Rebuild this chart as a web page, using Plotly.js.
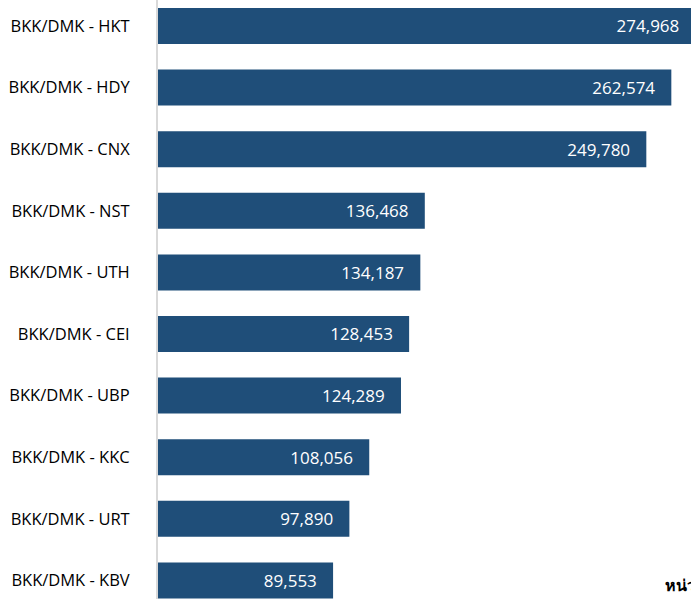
<!DOCTYPE html>
<html>
<head>
<meta charset="utf-8">
<script src="https://cdn.plot.ly/plotly-3.0.1.min.js"></script>
<style>
html,body{margin:0;padding:0;overflow:hidden;background:#fff;}
#chart{width:691px;height:599px;}
</style>
</head>
<body>
<div id="chart"></div>
<script>
const routes = ["BKK/DMK - HKT","BKK/DMK - HDY","BKK/DMK - CNX","BKK/DMK - NST","BKK/DMK - UTH","BKK/DMK - CEI","BKK/DMK - UBP","BKK/DMK - KKC","BKK/DMK - URT","BKK/DMK - KBV"];
const passengers = [274968,262574,249780,136468,134187,128453,124289,108056,97890,89553];
const unitLabel = "หน่วย: คน";

const FONT = 'Open Sans, Noto Sans, sans-serif';

const trace = {
  type: 'bar',
  orientation: 'h',
  y: routes,
  x: passengers,
  marker: {color: '#1f4e79'},
  texttemplate: '%{x:,}\u00a0\u00a0\u00a0',
  textposition: 'inside',
  insidetextanchor: 'end',
  insidetextfont: {color: '#ffffff', size: 17, family: FONT},
  constraintext: 'none',
  hoverinfo: 'none'
};

const layout = {
  width: 691,
  height: 599,
  margin: {l: 158, r: 0, t: 0, b: 0},
  paper_bgcolor: '#ffffff',
  plot_bgcolor: '#ffffff',
  showlegend: false,
  bargap: 0.416,
  font: {family: FONT, size: 17, color: '#000000'},
  xaxis: {
    range: [0, 272634],
    visible: false,
    showgrid: false,
    zeroline: false
  },
  yaxis: {
    type: 'category',
    range: [9.302, -0.422],
    showline: true,
    linecolor: '#d9d9d9',
    linewidth: 2,
    layer: 'below traces',
    ticks: '',
    showgrid: false,
    zeroline: false,
    ticklabelstandoff: 23,
    tickfont: {size: 16.5, color: '#000000', family: FONT}
  },
  annotations: [{
    text: unitLabel,
    xref: 'paper', yref: 'paper',
    x: 0.9475, y: 0.023,
    xanchor: 'left', yanchor: 'middle',
    showarrow: false,
    font: {size: 16, color: '#000000', family: 'Noto Sans, sans-serif', weight: 'bold'}
  }]
};

Plotly.newPlot('chart', [trace], layout, {displayModeBar: false, staticPlot: true});
</script>
</body>
</html>
